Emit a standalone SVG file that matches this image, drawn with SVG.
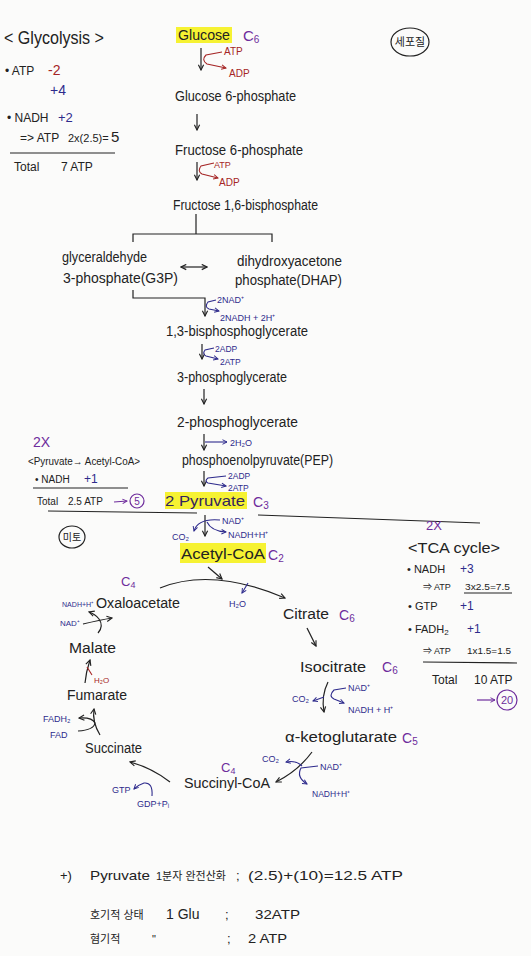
<svg xmlns="http://www.w3.org/2000/svg" width="531" height="956" viewBox="0 0 531 956">
<style>
text{font-family:"Liberation Sans","Noto Sans CJK KR",sans-serif;fill:#222}
.n{font-size:14px}
.h{font-size:12px}
.s{font-size:9px}
.r{fill:#a52525}
.b{fill:#2e2b8c}
.p{fill:#6e2c9c}
.k{stroke:#222;stroke-width:1.2;fill:none}
.kr{stroke:#a52525;stroke-width:1.1;fill:none}
.kb{stroke:#2e2b8c;stroke-width:1.1;fill:none}
.kp{stroke:#6e2c9c;stroke-width:1.2;fill:none}
.hl{fill:#f6f232}
</style>
<defs>
<marker id="a" viewBox="0 0 8 8" refX="7" refY="4" markerWidth="7" markerHeight="7" markerUnits="userSpaceOnUse" orient="auto-start-reverse"><path d="M1,1 L7,4 L1,7" fill="none" stroke="#222" stroke-width="1.3"/></marker>
<marker id="ar" viewBox="0 0 8 8" refX="7" refY="4" markerWidth="6" markerHeight="6" markerUnits="userSpaceOnUse" orient="auto"><path d="M1,1 L7,4 L1,7" fill="none" stroke="#a52525" stroke-width="1.3"/></marker>
<marker id="ab" viewBox="0 0 8 8" refX="7" refY="4" markerWidth="6" markerHeight="6" markerUnits="userSpaceOnUse" orient="auto"><path d="M1,1 L7,4 L1,7" fill="none" stroke="#2e2b8c" stroke-width="1.3"/></marker>
<marker id="ap" viewBox="0 0 8 8" refX="7" refY="4" markerWidth="6" markerHeight="6" markerUnits="userSpaceOnUse" orient="auto"><path d="M1,1 L7,4 L1,7" fill="none" stroke="#6e2c9c" stroke-width="1.3"/></marker>
</defs>
<rect width="531" height="956" fill="#fbfbfa"/>

<!-- Glycolysis summary -->
<g id="glycolysis-summary">
<text x="4" y="44" font-size="18" textLength="100" lengthAdjust="spacingAndGlyphs">&lt; Glycolysis &gt;</text>
<text x="5" y="75" class="h">• ATP</text>
<text x="48" y="75" font-size="14" class="r">-2</text>
<text x="50" y="95" font-size="14" class="b">+4</text>
<text x="7" y="122" class="h">• NADH</text>
<text x="58" y="122" font-size="13" class="b">+2</text>
<text x="20" y="142" class="h">=&gt; ATP</text>
<text x="68" y="142" font-size="11">2x(2.5)=</text>
<text x="111" y="142" font-size="15">5</text>
<line x1="10" y1="153" x2="115" y2="153" class="k"/>
<text x="14" y="171" class="h">Total</text>
<text x="61" y="171" class="h">7 ATP</text>
</g>

<g id="cytoplasm-tag">
<ellipse cx="410" cy="42" rx="19" ry="14" class="k"/>
<text x="410" y="46" font-size="11" text-anchor="middle">세포질</text>
</g>

<!-- Glycolysis nodes -->
<g id="glucose">
<rect x="176" y="27" width="56" height="16" class="hl"/>
<text x="178" y="40" class="n" textLength="52" lengthAdjust="spacingAndGlyphs">Glucose</text>
<text x="243" y="41" font-size="15" class="p">C<tspan font-size="10" dy="2">6</tspan></text>
</g>
<g id="g6p"><text x="175" y="101" class="n" textLength="121" lengthAdjust="spacingAndGlyphs">Glucose 6-phosphate</text></g>
<g id="f6p"><text x="175" y="155" class="n" textLength="128" lengthAdjust="spacingAndGlyphs">Fructose 6-phosphate</text></g>
<g id="f16bp"><text x="173" y="210" class="n" textLength="145" lengthAdjust="spacingAndGlyphs">Fructose 1,6-bisphosphate</text></g>
<g id="g3p">
<text x="62" y="262" class="n" textLength="85" lengthAdjust="spacingAndGlyphs">glyceraldehyde</text>
<text x="63" y="283" class="n" textLength="115" lengthAdjust="spacingAndGlyphs">3-phosphate(G3P)</text>
</g>
<g id="dhap">
<text x="237" y="266" class="n" textLength="105" lengthAdjust="spacingAndGlyphs">dihydroxyacetone</text>
<text x="235" y="285" class="n" textLength="107" lengthAdjust="spacingAndGlyphs">phosphate(DHAP)</text>
</g>
<g id="bpg13"><text x="166" y="336" class="n" textLength="142" lengthAdjust="spacingAndGlyphs">1,3-bisphosphoglycerate</text></g>
<g id="pg3"><text x="177" y="382" class="n" textLength="110" lengthAdjust="spacingAndGlyphs">3-phosphoglycerate</text></g>
<g id="pg2"><text x="177" y="427" class="n" textLength="121" lengthAdjust="spacingAndGlyphs">2-phosphoglycerate</text></g>
<g id="pep"><text x="182" y="465" class="n" textLength="151" lengthAdjust="spacingAndGlyphs">phosphoenolpyruvate(PEP)</text></g>
<g id="pyruvate">
<rect x="165" y="492" width="82" height="17" class="hl"/>
<text x="165" y="506" font-size="15" style="fill:#33235f" textLength="80" lengthAdjust="spacingAndGlyphs">2 Pyruvate</text>
<text x="253" y="507" font-size="14" class="p">C<tspan font-size="10" dy="2">3</tspan></text>
</g>

<!-- Pyruvate -> Acetyl-CoA summary -->
<g id="pdh-summary">
<text x="33" y="447" font-size="14" class="p">2X</text>
<text x="28" y="465" font-size="10.5" textLength="112" lengthAdjust="spacingAndGlyphs">&lt;Pyruvate→ Acetyl-CoA&gt;</text>
<text x="35" y="483" font-size="10">• NADH</text>
<text x="84" y="483" font-size="12" class="b">+1</text>
<line x1="33" y1="488" x2="128" y2="488" class="k"/>
<text x="37" y="505" font-size="10">Total</text>
<text x="68" y="505" font-size="10">2.5 ATP</text>
<line x1="114" y1="502" x2="127" y2="501" class="kp" marker-end="url(#ap)"/>
<circle cx="137" cy="501" r="7" class="kp"/>
<text x="137" y="505" font-size="10" text-anchor="middle" class="p">5</text>
</g>

<g id="separator">
<path d="M 48 511 L 197 513" class="k" stroke="#444"/>
<path d="M 258 515 L 480 523" class="k" stroke="#444"/>
</g>

<g id="mito-tag">
<ellipse cx="72" cy="537" rx="13" ry="11" class="k"/>
<text x="72" y="541" font-size="10" text-anchor="middle">미토</text>
</g>

<!-- TCA nodes -->
<g id="acetylcoa">
<rect x="180" y="543" width="86" height="20" class="hl"/>
<text x="181" y="559" font-size="15" textLength="84" lengthAdjust="spacingAndGlyphs">Acetyl-CoA</text>
<text x="268" y="560" font-size="14" class="p">C<tspan font-size="10" dy="2">2</tspan></text>
</g>
<g id="oxaloacetate">
<text x="121" y="586" font-size="13" class="p">C<tspan font-size="9" dy="2">4</tspan></text>
<text x="96" y="608" class="n" textLength="84" lengthAdjust="spacingAndGlyphs">Oxaloacetate</text>
</g>
<g id="citrate">
<text x="283" y="619" class="n" textLength="46" lengthAdjust="spacingAndGlyphs">Citrate</text>
<text x="339" y="620" font-size="14" class="p">C<tspan font-size="10" dy="2">6</tspan></text>
</g>
<g id="isocitrate">
<text x="300" y="672" class="n" textLength="66" lengthAdjust="spacingAndGlyphs">Isocitrate</text>
<text x="382" y="672" font-size="14" class="p">C<tspan font-size="10" dy="2">6</tspan></text>
</g>
<g id="akg">
<text x="285" y="742" class="n" textLength="112" lengthAdjust="spacingAndGlyphs">α-ketoglutarate</text>
<text x="402" y="743" font-size="14" class="p">C<tspan font-size="10" dy="2">5</tspan></text>
</g>
<g id="succinylcoa">
<text x="221" y="772" font-size="13" class="p">C<tspan font-size="9" dy="2">4</tspan></text>
<text x="184" y="788" class="n" textLength="86" lengthAdjust="spacingAndGlyphs">Succinyl-CoA</text>
</g>
<g id="succinate"><text x="85" y="753" class="n" textLength="57" lengthAdjust="spacingAndGlyphs">Succinate</text></g>
<g id="fumarate"><text x="67" y="700" class="n" textLength="60" lengthAdjust="spacingAndGlyphs">Fumarate</text></g>
<g id="malate"><text x="69" y="653" class="n" textLength="47" lengthAdjust="spacingAndGlyphs">Malate</text></g>

<!-- TCA summary -->
<g id="tca-summary">
<text x="426" y="530" font-size="13" class="p">2X</text>
<text x="408" y="553" font-size="14" textLength="92" lengthAdjust="spacingAndGlyphs">&lt;TCA cycle&gt;</text>
<text x="407" y="573" font-size="11">• NADH</text>
<text x="460" y="573" font-size="12" class="b">+3</text>
<text x="423" y="590" font-size="9">⇒ ATP</text>
<text x="465" y="590" font-size="8.5" textLength="45" lengthAdjust="spacingAndGlyphs">3x2.5=7.5</text>
<line x1="464" y1="593" x2="512" y2="593" class="k" stroke-width="0.9"/>
<text x="408" y="610" font-size="11">• GTP</text>
<text x="460" y="610" font-size="12" class="b">+1</text>
<text x="408" y="633" font-size="11">• FADH<tspan font-size="8" dy="2">2</tspan></text>
<text x="467" y="633" font-size="12" class="b">+1</text>
<text x="423" y="654" font-size="9">⇒ ATP</text>
<text x="467" y="654" font-size="8.5" textLength="44" lengthAdjust="spacingAndGlyphs">1x1.5=1.5</text>
<line x1="423" y1="662" x2="517" y2="663" class="k"/>
<text x="432" y="684" font-size="12">Total</text>
<text x="474" y="684" font-size="12">10 ATP</text>
<line x1="477" y1="700" x2="495" y2="700" class="kp" marker-end="url(#ap)"/>
<circle cx="507" cy="700" r="10" class="kp"/>
<text x="507" y="704" font-size="11" text-anchor="middle" class="p">20</text>
</g>

<!-- cofactor labels -->
<g id="cofactors">
<text x="224" y="55" font-size="10" class="r">ATP</text>
<text x="229" y="77" font-size="10" class="r">ADP</text>
<text x="214" y="168" font-size="9" class="r">ATP</text>
<text x="219" y="186" font-size="10" class="r">ADP</text>
<text x="217" y="303" class="s b">2NAD⁺</text>
<text x="220" y="321" class="s b">2NADH + 2H⁺</text>
<text x="215" y="352" font-size="8.5" class="b">2ADP</text>
<text x="220" y="365" font-size="8.5" class="b">2ATP</text>
<text x="230" y="446" class="s b">2H₂O</text>
<text x="228" y="479" font-size="8.5" class="b">2ADP</text>
<text x="228" y="491" font-size="8.5" class="b">2ATP</text>
<text x="222" y="524" class="s b">NAD⁺</text>
<text x="228" y="538" class="s b">NADH+H⁺</text>
<text x="172" y="540" class="s b">CO₂</text>
<text x="229" y="607" class="s b">H₂O</text>
<text x="62" y="607" font-size="7.5" class="b" textLength="32" lengthAdjust="spacingAndGlyphs">NADH+H⁺</text>
<text x="60" y="626" font-size="8" class="b">NAD⁺</text>
<text x="94" y="683" font-size="8" class="r">H₂O</text>
<text x="43" y="722" class="s b">FADH₂</text>
<text x="50" y="738" class="s b">FAD</text>
<text x="112" y="793" class="s b">GTP</text>
<text x="137" y="807" class="s b">GDP+Pᵢ</text>
<text x="262" y="762" class="s b">CO₂</text>
<text x="320" y="770" class="s b">NAD⁺</text>
<text x="312" y="797" font-size="8.5" class="b">NADH+H⁺</text>
<text x="292" y="702" class="s b">CO₂</text>
<text x="348" y="691" class="s b">NAD⁺</text>
<text x="348" y="713" class="s b">NADH + H⁺</text>
</g>

<!-- connectors -->
<g id="connectors">
<line x1="201" y1="48" x2="201" y2="70" class="k" marker-end="url(#a)"/>
<path d="M 222 52 L 206 55 Q 201 60 207 64 L 226 68" class="kr" marker-end="url(#ar)"/>
<line x1="197" y1="114" x2="197" y2="130" class="k" marker-end="url(#a)"/>
<line x1="197" y1="162" x2="197" y2="180" class="k" marker-end="url(#a)"/>
<path d="M 214 163 L 201 166 Q 197 171 202 174 L 218 178" class="kr" marker-end="url(#ar)"/>
<path d="M 196 214 L 196 234 M 133 242 L 133 234 L 272 234 L 272 242" class="k"/>
<line x1="181" y1="267" x2="207" y2="267" class="k" marker-start="url(#a)" marker-end="url(#a)"/>
<path d="M 133 290 L 133 298 L 205 298 L 205 316" class="k" marker-end="url(#a)"/>
<path d="M 216 300 L 208 302 Q 204 307 209 309 L 219 311" class="kb" marker-end="url(#ab)"/>
<line x1="202" y1="344" x2="202" y2="359" class="k" marker-end="url(#a)"/>
<path d="M 214 348 L 205 350 Q 202 354 206 356 L 218 359" class="kb" marker-end="url(#ab)"/>
<line x1="204" y1="389" x2="204" y2="404" class="k" marker-end="url(#a)"/>
<line x1="204" y1="434" x2="204" y2="450" class="k" marker-end="url(#a)"/>
<line x1="205" y1="442" x2="227" y2="442" class="kb" marker-end="url(#ab)"/>
<line x1="204" y1="471" x2="204" y2="486" class="k" marker-end="url(#a)"/>
<path d="M 226 476 L 208 478 Q 204 481 208 483 L 226 486" class="kb" marker-end="url(#ab)"/>
<line x1="205" y1="515" x2="205" y2="536" class="k" marker-end="url(#a)"/>
<path d="M 220 520 Q 198 518 194 531" class="kb" marker-end="url(#ab)"/>
<path d="M 207 522 Q 211 531 226 532" class="kb" marker-end="url(#ab)"/>
<line x1="208" y1="567" x2="222" y2="579" class="k" marker-end="url(#a)"/>
<path d="M 160 588 Q 212 567 285 598" class="k" marker-end="url(#a)"/>
<line x1="248" y1="583" x2="242" y2="593" class="kb" marker-end="url(#ab)"/>
<line x1="307" y1="628" x2="316" y2="646" class="k" marker-end="url(#a)"/>
<path d="M 328 682 Q 321 696 324 712" class="k" marker-end="url(#a)"/>
<path d="M 324 697 L 313 701" class="kb" marker-end="url(#ab)"/>
<path d="M 346 688 L 334 690 Q 328 696 334 699 L 344 703" class="kb" marker-end="url(#ab)"/>
<path d="M 312 752 Q 298 771 276 782" class="k" marker-end="url(#a)"/>
<path d="M 302 766 Q 296 760 286 762" class="kb" marker-end="url(#ab)"/>
<path d="M 318 766 L 301 768 Q 296 777 307 784" class="kb" marker-end="url(#ab)"/>
<path d="M 170 782 Q 152 768 130 762" class="k" marker-end="url(#a)"/>
<path d="M 152 796 Q 153 782 144 783 Q 138 785 134 789" class="kb" marker-end="url(#ab)"/>
<path d="M 100 735 Q 92 722 94 709" class="k" marker-end="url(#a)"/>
<path d="M 78 731 Q 94 730 95 723 Q 92 717 79 718" class="k" marker-end="url(#a)"/>
<path d="M 85 683 Q 86 672 90 660" class="k" marker-end="url(#a)"/>
<path d="M 87 667 L 92 675" class="kr"/>
<path d="M 83 624 Q 100 620 112 618" class="k" marker-end="url(#a)"/>
<path d="M 98 633 Q 104 626 99 619 Q 95 614 89 612" class="k" marker-end="url(#a)"/>
</g>

<!-- bottom notes -->
<g id="notes">
<text x="60" y="880" font-size="13">+)</text>
<text x="90" y="880" font-size="13" textLength="60" lengthAdjust="spacingAndGlyphs">Pyruvate</text>
<text x="156" y="880" font-size="11">1분자 완전산화</text>
<text x="236" y="880" font-size="13">;</text>
<text x="248" y="880" font-size="13" textLength="155" lengthAdjust="spacingAndGlyphs">(2.5)+(10)=12.5 ATP</text>
<text x="90" y="919" font-size="11">호기적 상태</text>
<text x="166" y="919" font-size="14">1 Glu</text>
<text x="225" y="919" font-size="13">;</text>
<text x="255" y="919" font-size="13" textLength="45" lengthAdjust="spacingAndGlyphs">32ATP</text>
<text x="90" y="943" font-size="11">혐기적</text>
<text x="152" y="943" font-size="11">"</text>
<text x="227" y="943" font-size="13">;</text>
<text x="248" y="943" font-size="13" textLength="39" lengthAdjust="spacingAndGlyphs">2 ATP</text>
</g>
</svg>
